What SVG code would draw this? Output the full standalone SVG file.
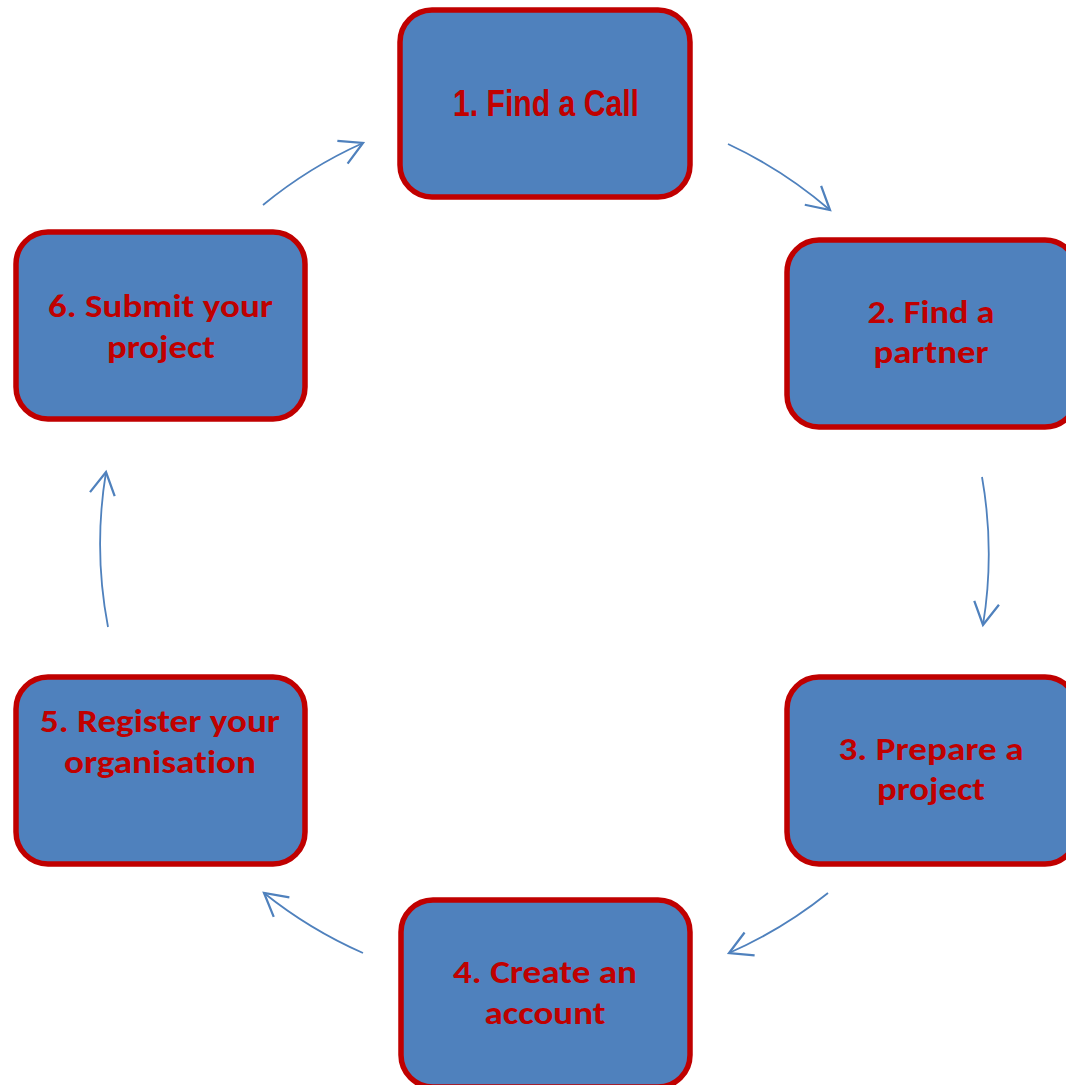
<svg xmlns="http://www.w3.org/2000/svg" width="1066" height="1085" viewBox="0 0 1066 1085">
<style>
.box{fill:#4F81BD;stroke:#C00000;stroke-width:5.5}
.lbl{fill:#C00000;font-family:Carlito,Lato,"Liberation Sans",sans-serif;font-weight:bold;font-size:33px;text-anchor:middle;font-variant-ligatures:none}
.lbl1{fill:#C00000;font-family:"Liberation Sans Narrow","Liberation Sans",Arial,sans-serif;font-weight:bold;font-size:36px;text-anchor:middle}
.arc{fill:none;stroke:#4F81BD;stroke-width:1.8;marker-end:url(#ah)}
</style>
<defs>
<marker id="ah" markerUnits="userSpaceOnUse" markerWidth="30" markerHeight="30" viewBox="-20 -12 24 24" refX="0" refY="0" orient="auto">
<path d="M-18,-10 L0,0 L-18,10" fill="none" stroke="#4F81BD" stroke-width="1.8"/>
</marker>
</defs>
<rect width="1066" height="1085" fill="#FFFFFF"/>
<g id="connectors">
<path class="arc" d="M728,144 A443,443 0 0 1 830,210"/>
<path class="arc" d="M982,477 A443,443 0 0 1 983,625"/>
<path class="arc" d="M828,893 A443,443 0 0 1 729,953"/>
<path class="arc" d="M363,953 A443,443 0 0 1 264,893"/>
<path class="arc" d="M108,627 A443,443 0 0 1 106,472"/>
<path class="arc" d="M263,205 A443,443 0 0 1 363,143"/>
</g>
<g id="node1">
<rect class="box" x="400" y="10" width="290" height="187" rx="32"/>
<text class="lbl1" x="546" y="116" textLength="186" lengthAdjust="spacingAndGlyphs">1. Find a Call</text>
</g>
<g id="node2">
<rect class="box" x="787" y="240" width="290" height="187" rx="32"/>
<text class="lbl" x="931" y="323" textLength="127" lengthAdjust="spacingAndGlyphs">2. Find a</text>
<text class="lbl" x="931" y="363" textLength="115" lengthAdjust="spacingAndGlyphs">partner</text>
</g>
<g id="node3">
<rect class="box" x="787" y="677" width="290" height="187" rx="32"/>
<text class="lbl" x="931" y="760" textLength="185" lengthAdjust="spacingAndGlyphs">3. Prepare a</text>
<text class="lbl" x="931" y="800" textLength="108" lengthAdjust="spacingAndGlyphs">project</text>
</g>
<g id="node4">
<rect class="box" x="401" y="900" width="289" height="187" rx="32"/>
<text class="lbl" x="545" y="983" textLength="184" lengthAdjust="spacingAndGlyphs">4. Create an</text>
<text class="lbl" x="545" y="1024" textLength="121" lengthAdjust="spacingAndGlyphs">account</text>
</g>
<g id="node5">
<rect class="box" x="16" y="677" width="289" height="187" rx="32"/>
<text class="lbl" x="160" y="732" textLength="240" lengthAdjust="spacingAndGlyphs">5. Register your</text>
<text class="lbl" x="160" y="773" textLength="192" lengthAdjust="spacingAndGlyphs">organisation</text>
</g>
<g id="node6">
<rect class="box" x="16" y="232" width="289" height="187" rx="32"/>
<text class="lbl" x="160.5" y="317" textLength="225" lengthAdjust="spacingAndGlyphs">6. Submit your</text>
<text class="lbl" x="161" y="358" textLength="108" lengthAdjust="spacingAndGlyphs">project</text>
</g>
</svg>
